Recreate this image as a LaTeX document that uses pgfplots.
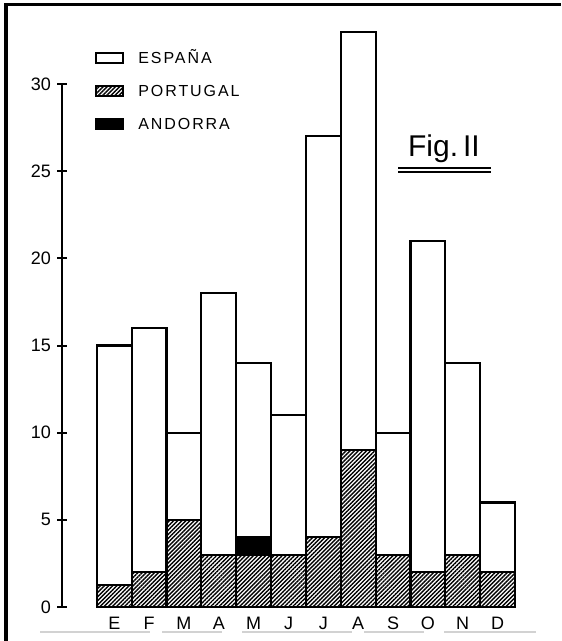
\documentclass[border=0pt]{standalone}
\usepackage{fontspec}
\setmainfont{Liberation Sans}
\newfontfamily\spaced[LetterSpace=12]{Liberation Sans}
\usepackage{pgfplots}
\usepackage{pgfplotstable}
\pgfplotsset{compat=1.18}
\usetikzlibrary{patterns.meta}
\tikzset{hatch/.style={pattern={Lines[angle=45,distance=1.45pt,line width=0.7pt]}, pattern color=black}}

\pgfplotstableread{
x por and esp
0 1.25 0 13.75
1 2 0 14
2 5 0 5
3 3 0 15
4 3 1 10
5 3 0 8
6 4 0 23
7 9 0 24
8 3 0 7
9 2 0 19
10 3 0 11
11 2 0 4
}\data

\begin{document}
\begin{tikzpicture}
\path[use as bounding box] (0pt,0pt) rectangle (280.5pt,-320.5pt);
\draw[line width=1.5pt] (2pt,-2.5pt) -- (280.5pt,-2.5pt);
\draw[line width=2.2pt] (3pt,-1.75pt) -- (3pt,-320.5pt);
\draw[gray!35, line width=1.2pt, dash pattern=on 55pt off 6pt on 30pt off 10pt] (20pt,-316pt) -- (268pt,-316pt);
\begin{axis}[
  at={(31pt,-303.5pt)}, anchor=south west,
  scale only axis, width=226.5pt, height=261.5pt,
  xmin=-1.5, xmax=11.5, ymin=0, ymax=30,
  clip=false,
  ybar stacked, bar width=1,
  axis lines=left,
  axis line style={-, line width=1pt},
  x axis line style={draw=none},
  xtick={0,...,11},
  xticklabels={E,F,M,A,M,J,J,A,S,O,N,D},
  xtick style={draw=none},
  ytick={0,5,...,30},
  tick align=center,
  major tick length=5pt,
  ytick style={line width=1pt, black},
  tick label style={font=\fontsize{9}{10}\selectfont},
  /pgf/number format/assume math mode=true,
  xticklabel style={yshift=1pt},
  yticklabel style={xshift=0.5pt},
  legend image code/.code={\draw[#1, line width=1pt] (0pt,-2.5pt) rectangle (13.5pt,2.5pt);},
  legend style={draw=none, fill=none, inner sep=0pt, anchor=north west, at={(0.0728,1.061)},
    row sep=10.5pt, column sep=7pt,
    nodes={inner sep=0pt, text height=5.5pt, text depth=0pt, font=\spaced\fontsize{8}{9}\selectfont}},
  legend cell align=left,
]
\addlegendimage{draw=black, fill=white}
\addlegendentry{ESPAÑA}
\addlegendimage{draw=black, hatch}
\addlegendentry{PORTUGAL}
\addlegendimage{draw=black, fill=black}
\addlegendentry{ANDORRA}
\addplot[draw=black, line width=1.1pt, hatch, forget plot] table[x=x,y=por]{\data};
\addplot[draw=black, line width=1.1pt, fill=black, forget plot] table[x=x,y=and]{\data};
\addplot[draw=black, line width=1.1pt, fill=white, forget plot] table[x=x,y=esp]{\data};
\end{axis}
\node[anchor=base, font=\fontsize{15}{17}\selectfont] at (222pt,-78.5pt) {Fig.\,II};
\draw[line width=1pt] (199pt,-84pt) -- (245.5pt,-84pt);
\draw[line width=0.6pt] (199pt,-86pt) -- (245.5pt,-86pt);
\end{tikzpicture}
\end{document}
